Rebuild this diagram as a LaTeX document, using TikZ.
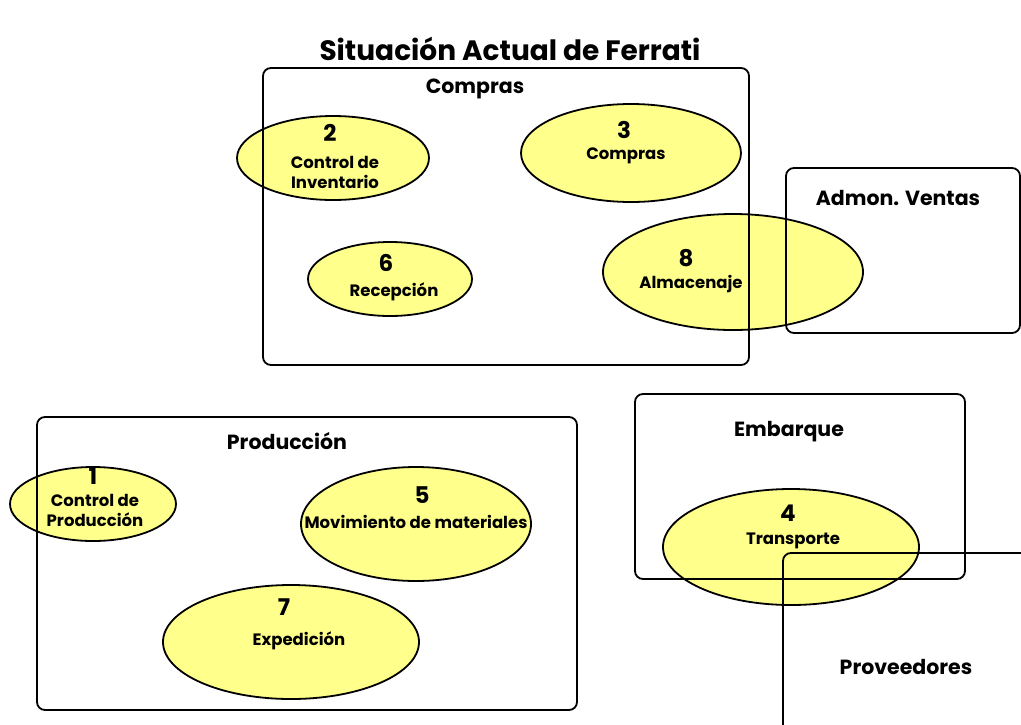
\documentclass[tikz,border=0pt]{standalone}
\usepackage{fontspec}
\setmainfont{Poppins}
\usetikzlibrary{shapes.geometric}
\definecolor{procyellow}{RGB}{255,255,140}

\begin{document}
\begin{tikzpicture}[x=1pt,y=-1pt,
    proc/.style={ellipse,draw,line width=1.8pt,fill=procyellow,inner sep=0pt},
    area/.style={draw,line width=1.8pt,rounded corners=8pt},
    areaname/.style={font=\bfseries\fontsize{20.5}{24}\selectfont},
    pnum/.style={font=\bfseries\fontsize{23}{23}\selectfont},
    pname/.style={align=center,font=\bfseries\fontsize{16.5}{20}\selectfont}]
  \useasboundingbox (0,0) rectangle (1021,724);
  \clip (0,0) rectangle (1021,724);

  \node[font=\bfseries\fontsize{28}{32}\selectfont] (title) at (510,49) {Situación Actual de Ferrati};

  % procesos
  \node[proc,minimum width=192pt,minimum height=84pt] (e2) at (333,158) {};
  \node[proc,minimum width=220pt,minimum height=98pt] (e3) at (631,153) {};
  \node[proc,minimum width=164pt,minimum height=74pt] (e6) at (390,279) {};
  \node[proc,minimum width=260pt,minimum height=116pt] (e8) at (733,272) {};
  \node[proc,minimum width=166pt,minimum height=74pt] (e1) at (93,504) {};
  \node[proc,minimum width=230pt,minimum height=114pt] (e5) at (416,524) {};
  \node[proc,minimum width=256pt,minimum height=114pt] (e7) at (291,642) {};
  \node[proc,minimum width=256pt,minimum height=116pt] (e4) at (791,547) {};

  % areas
  \draw[area] (263,68) rectangle (749,365);
  \draw[area] (786,168) rectangle (1020,333);
  \draw[area] (37,417) rectangle (577,710);
  \draw[area] (635,394) rectangle (965,579);
  \draw[area] (783,553) rectangle (1060,760);

  \node[areaname] (compras) at (475,89) {Compras};
  \node[areaname] (ventas) at (898,198) {Admon. Ventas};
  \node[areaname] (produccion) at (287,441) {Producción};
  \node[areaname] (embarque) at (789,432) {Embarque};
  \node[areaname] (proveedores) at (906,667) {Proveedores};

  \node[pnum] (n2) at (330,133) {2};
  \node[pname] (t2) at (335,172) {Control de\\Inventario};
  \node[pnum] (n3) at (624,130) {3};
  \node[pname] (t3) at (626,156) {Compras};
  \node[pnum] (n6) at (386,263) {6};
  \node[pname] (t6) at (394,292) {Recepción};
  \node[pnum] (n8) at (686,258) {8};
  \node[pname] (t8) at (691,284) {Almacenaje};
  \node[pnum] (n1) at (93,476) {1};
  \node[pname] (t1) at (95,510) {Control de\\Producción};
  \node[pnum] (n5) at (422,495) {5};
  \node[pname] (t5) at (416,522) {Movimiento de materiales};
  \node[pnum] (n7) at (284,607) {7};
  \node[pname] (t7) at (299,641) {Expedición};
  \node[pnum] (n4) at (788,513) {4};
  \node[pname] (t4) at (793,541) {Transporte};
\end{tikzpicture}
\end{document}
